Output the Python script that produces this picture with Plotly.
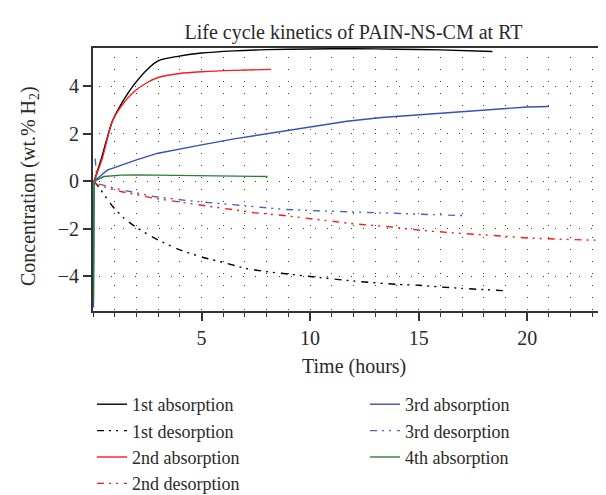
import plotly.graph_objects as go

# ---- data ----
abs1_t = [0.05, 0.4, 0.6, 0.89, 1.4, 1.89, 2.5, 3.0, 3.9, 5.0, 6.5, 8.0, 10.0, 12.0, 14.0, 16.0, 18.4]
abs1_c = [0.0, 1.0, 1.65, 2.52, 3.4, 4.06, 4.7, 5.06, 5.25, 5.39, 5.48, 5.53, 5.56, 5.57, 5.55, 5.52, 5.45]

des1_t = [0.05, 0.35, 0.9, 1.43, 2.05, 2.97, 3.97, 5.04, 6.04, 7.04, 8.04, 9.0, 10.0, 12.0, 14.0, 15.0, 16.0, 17.0, 18.0, 19.06]
des1_c = [0.0, -0.35, -1.05, -1.55, -1.97, -2.45, -2.87, -3.19, -3.42, -3.66, -3.8, -3.9, -4.0, -4.19, -4.33, -4.37, -4.44, -4.5, -4.55, -4.6]

abs2_t = [0.05, 0.43, 0.89, 1.3, 1.9, 2.5, 3.0, 4.0, 5.0, 6.5, 8.2]
abs2_c = [0.0, 0.97, 2.52, 3.15, 3.77, 4.15, 4.36, 4.53, 4.6, 4.66, 4.7]

des2_t = [0.05, 0.2, 1.28, 2.8, 4.35, 5.88, 7.42, 8.8, 10.34, 12.03, 13.87, 15.1, 16.64, 17.87, 19.1, 20.17, 21.4, 22.8, 24.0]
des2_c = [0.0, -0.15, -0.43, -0.71, -0.92, -1.13, -1.32, -1.44, -1.62, -1.79, -1.93, -2.06, -2.17, -2.26, -2.32, -2.39, -2.44, -2.47, -2.48]

abs3_t = [0.02, 0.05, 0.66, 1.28, 2.0, 3.0, 4.0, 5.0, 6.5, 8.0, 10.2, 11.7, 13.3, 14.8, 16.3, 17.5, 18.5, 20.0, 21.0]
abs3_c = [-5.3, 0.0, 0.47, 0.68, 0.9, 1.18, 1.37, 1.53, 1.78, 2.0, 2.33, 2.52, 2.68, 2.78, 2.85, 2.93, 3.02, 3.12, 3.14]

des3_t = [0.1, 0.2, 1.28, 2.8, 4.35, 5.88, 7.42, 8.8, 10.34, 12.03, 13.87, 15.4, 17.0]
des3_c = [0.95, -0.1, -0.35, -0.64, -0.81, -0.94, -1.06, -1.18, -1.24, -1.29, -1.36, -1.41, -1.44]

abs4_t = [0.02, 0.05, 0.5, 1.3, 2.0, 3.0, 4.35, 6.0, 8.04]
abs4_c = [-5.05, 0.0, 0.2, 0.26, 0.27, 0.26, 0.24, 0.22, 0.2]

x_ticks = [5, 10, 15, 20]
y_ticks = [-4, -2, 0, 2, 4]

FONT = "Liberation Serif, DejaVu Serif, serif"
TXT = "#2a2a2a"
DASHDOTDOT = "7px,5px,2px,5px,2px,6px"

series = [
    ("1st absorption", abs1_t, abs1_c, "#000000", "solid", "legend", "spline"),
    ("1st desorption", des1_t, des1_c, "#000000", DASHDOTDOT, "legend", "spline"),
    ("2nd absorption", abs2_t, abs2_c, "#ff1a1a", "solid", "legend", "spline"),
    ("2nd desorption", des2_t, des2_c, "#ff1a1a", DASHDOTDOT, "legend", "linear"),
    ("3rd absorption", abs3_t, abs3_c, "#3b4fb8", "solid", "legend2", "linear"),
    ("3rd desorption", des3_t, des3_c, "#4a63c0", DASHDOTDOT, "legend2", "linear"),
    ("4th absorption", abs4_t, abs4_c, "#2b7d3c", "solid", "legend2", "linear"),
]

fig = go.Figure()
for name, t, c, col, dash, lg, shape in series:
    line = dict(color=col, width=1.4, dash=dash, shape=shape)
    if shape == "spline":
        line["smoothing"] = 0.7
    fig.add_trace(go.Scatter(
        x=t, y=c, mode="lines", name=name, legend=lg,
        line=line, hoverinfo="skip",
    ))

W, H = 606, 495
L, R, T, B = 85, 0, 40, 192
PW = W - L - R
PH = H - T - B

GRIDC = "#3a3a3a"
LEG_FONT = dict(family=FONT, size=18, color=TXT)
fig.update_layout(
    width=W, height=H,
    margin=dict(l=L, r=R, t=T, b=B, autoexpand=False),
    paper_bgcolor="white", plot_bgcolor="white",
    font=dict(family=FONT, size=20, color=TXT),
    title=dict(text="Life cycle kinetics of PAIN-NS-CM at RT",
               x=0.5, xref="paper", xanchor="center",
               y=1 - 24 / H, yref="container", yanchor="middle",
               font=dict(family=FONT, size=20, color=TXT)),
    xaxis=dict(
        range=[0, 24.0], tickmode="array", tickvals=x_ticks,
        showline=True, linewidth=2, linecolor="#333", mirror=True,
        ticks="outside", ticklen=8, tickwidth=1.5, tickcolor="#333",
        showgrid=True, gridcolor=GRIDC, gridwidth=1, griddash="0px,9px,1px,2px",
        zeroline=False,
        minor=dict(tickmode="linear", tick0=0, dtick=1, ticks="outside", ticklen=4,
                   tickwidth=1.2, tickcolor="#333",
                   showgrid=True, gridcolor=GRIDC, gridwidth=1, griddash="0px,9px,1px,2px"),
        automargin=False,
    ),
    yaxis=dict(
        range=[-5.45, 5.6], tickmode="array", tickvals=y_ticks,
        showline=True, linewidth=2, linecolor="#333", mirror=False,
        ticks="outside", ticklen=8, tickwidth=1.5, tickcolor="#333",
        showgrid=True, gridcolor=GRIDC, gridwidth=1, griddash="0px,6px,1px,5px",
        zeroline=False,
        automargin=False,
    ),
    legend=dict(
        x=84 / W, xref="container", xanchor="left",
        y=1 - 378 / H, yref="container", yanchor="top",
        bgcolor="rgba(0,0,0,0)", borderwidth=0, tracegroupgap=0,
        font=LEG_FONT,
    ),
    legend2=dict(
        x=357 / W, xref="container", xanchor="left",
        y=1 - 378 / H, yref="container", yanchor="top",
        bgcolor="rgba(0,0,0,0)", borderwidth=0, tracegroupgap=0,
        font=LEG_FONT,
    ),
    annotations=[
        dict(text="Time (hours)", xref="paper", yref="paper",
             x=0.5, y=-(358 - (T + PH)) / PH, xanchor="center", yanchor="middle",
             showarrow=False, font=dict(family=FONT, size=20, color=TXT)),
        dict(text="Concentration (wt.% H<sub>2</sub>)", xref="paper", yref="paper",
             x=-(L - 21) / PW, y=1 - (178 - T) / PH, xanchor="center", yanchor="middle",
             textangle=-90, showarrow=False, font=dict(family=FONT, size=20, color=TXT)),
    ],
)

fig.write_html("out.html")
